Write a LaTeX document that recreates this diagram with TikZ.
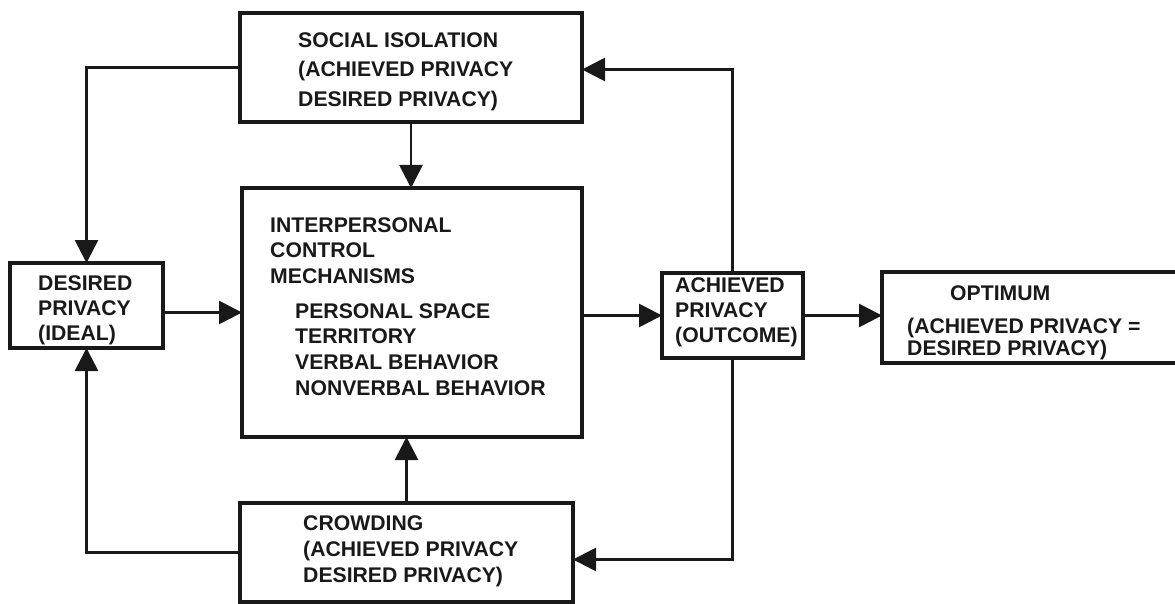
\documentclass[tikz,border=0pt]{standalone}
\usepackage{fontspec}
\setmainfont{Liberation Sans}
\usetikzlibrary{arrows.meta}
\begin{document}
\begin{tikzpicture}[x=1pt,y=-1pt,
  box/.style={draw=black!90,line width=3.4pt,rectangle,inner sep=0,outer sep=0,anchor=north west},
  txt/.style={anchor=north west,inner sep=0,align=left,text=black!90,font=\bfseries\fontsize{21.2}{#1}\selectfont},
  txt/.default=25,
  arr/.style={draw=black!90,line width=2.8pt,-{Triangle[length=23pt,width=23pt]}},
  ln/.style={draw=black!90,line width=2.8pt}]
\useasboundingbox (0,0) rectangle (1175,604);
% boxes
\node[box,minimum width=342pt,minimum height=109pt] (soc) at (240,13) {};
\node[box,minimum width=340pt,minimum height=249pt] (ip) at (242,188) {};
\node[box,minimum width=333pt,minimum height=99pt] (crowd) at (240,503) {};
\node[box,minimum width=153pt,minimum height=85pt] (des) at (10,263) {};
\node[box,minimum width=141pt,minimum height=85pt] (ach) at (662,273) {};
\node[box,minimum width=305pt,minimum height=91pt] (opt) at (882,272) {};
% texts
\node[txt=29.5] (soctxt) at (298,32) {SOCIAL ISOLATION\\(ACHIEVED PRIVACY\\DESIRED PRIVACY)};
\node[txt=25.5] (iptxt) at (270,217) {INTERPERSONAL\\CONTROL\\MECHANISMS};
\node[txt=25.7] (ipsub) at (295,303) {PERSONAL SPACE\\TERRITORY\\VERBAL BEHAVIOR\\NONVERBAL BEHAVIOR};
\node[txt=26] (crtxt) at (303,515) {CROWDING\\(ACHIEVED PRIVACY\\DESIRED PRIVACY)};
\node[txt=25] (destxt) at (38,275) {DESIRED\\PRIVACY\\(IDEAL)};
\node[txt=25] (achtxt) at (675,277) {ACHIEVED\\PRIVACY\\(OUTCOME)};
\node[txt] (opttitle) at (950,285) {OPTIMUM};
\node[txt=22] (opttxt) at (907,318) {(ACHIEVED PRIVACY =\\DESIRED PRIVACY)};
% connectors
\draw[arr] (soc.west) -| (des.north);
\draw[arr] (crowd.west) -| (des.south);
\draw[arr] (soc.south) -- (soc.south |- ip.north);
\draw[arr] (crowd.north) -- (crowd.north |- ip.south);
\draw[arr] (des.east |- ip.west) -- (ip.west);
\draw[arr] (ip.east |- ach.west) -- (ach.west);
\draw[arr] (ach.east) -- (ach.east -| opt.west);
\draw[arr] (ach.north) |- ([yshift=-2pt]soc.east);
\draw[arr] (ach.south) |- ([yshift=-7pt]crowd.east);
\end{tikzpicture}
\end{document}
